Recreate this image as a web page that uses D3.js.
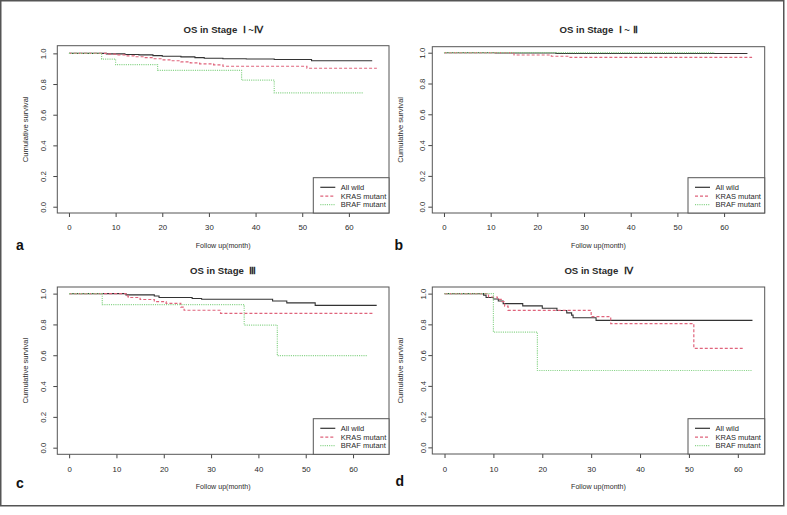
<!DOCTYPE html>
<html><head><meta charset="utf-8">
<script src="https://cdn.jsdelivr.net/npm/d3@7"></script>
<style>body{margin:0;background:#fff}svg{display:block}text{font-family:"Liberation Sans",Arial,sans-serif;fill:#2a2a2a}</style>
</head><body><svg id="chart" width="787" height="515"></svg>
<script>
// ---- tick labels & names ----
const xTicks = [0, 10, 20, 30, 40, 50, 60];
const yTicks = [0, 0.2, 0.4, 0.6, 0.8, 1.0];
const seriesNames = ["All wild", "KRAS mutant", "BRAF mutant"];
const panelTitles = ["OS in Stage  Ⅰ ~Ⅳ", "OS in Stage  Ⅰ ~ Ⅱ", "OS in Stage  Ⅲ", "OS in Stage  Ⅳ"];
const panelLetters = ["a", "b", "c", "d"];
const xTitle = "Follow up(month)";
const yTitle = "Cumulative survival";

// ---- Kaplan-Meier steps: [month, survival] (last pair = end of follow-up) ----
const aWild = [[0,1],[8,0.997],[12,0.993],[15,0.99],[18,0.985],[20,0.981],[24,0.977],[27,0.972],[29,0.968],[33,0.965],[38,0.963],[44,0.96],[52,0.952],[65,0.952]];
const aKras = [[0,1],[8,0.995],[10,0.99],[12,0.984],[14,0.978],[16,0.972],[18,0.965],[20,0.958],[22,0.952],[24,0.945],[26,0.938],[28,0.932],[31,0.925],[33,0.916],[51,0.903],[66,0.903]];
const aBraf = [[0,1],[7,0.963],[10,0.926],[19,0.889],[37,0.825],[44,0.742],[63,0.742]];

const bWild = [[0,1],[11,0.998],[24,0.995],[65,0.995]];
const bKras = [[0,1],[15,0.985],[23,0.977],[27,0.97],[66,0.97]];
const bBraf = [[0,1],[58,1]];

const cWild = [[0,1],[12,0.992],[18,0.985],[19,0.975],[26,0.968],[28,0.963],[43,0.952],[46,0.94],[52,0.924],[65,0.924]];
const cKras = [[0,1],[12,0.985],[12.5,0.975],[15,0.962],[18,0.948],[20.5,0.937],[23.6,0.913],[24.3,0.892],[32,0.872],[64.5,0.872]];
const cBraf = [[0,1],[7,0.929],[37,0.796],[44,0.597],[63,0.597]];

const dWild = [[0,1],[8,0.99],[8.5,0.975],[10,0.965],[11,0.952],[12,0.935],[16,0.92],[20,0.905],[23,0.89],[25,0.875],[26,0.86],[26.3,0.843],[31,0.826],[63,0.826]];
const dKras = [[0,1],[9,0.978],[10.8,0.963],[11.8,0.948],[12.3,0.918],[13,0.891],[30,0.85],[34,0.805],[51,0.644],[61,0.644]];
const dBraf = [[0,1],[10,0.75],[19,0.5],[63,0.5]];

const panelData = [[aWild, aKras, aBraf], [bWild, bKras, bBraf], [cWild, cKras, cBraf], [dWild, dKras, dBraf]];

// ---- styles ----
const seriesColors = ["#333333", "#e0647c", "#8ad48a"];
const seriesDash = [null, "3,2", "1.1,1.1"];

// ---- layout (pixel boxes) ----
const layouts = [
  {L:57.3, R:389, T:45.7, B:213, xd:[-2.5,68.6], yd:[-0.041,1.05], tickLabX:43.3, yTitleX:25, xTickY:227.7, xTitleY:245.7, titleY:29.3, letterX:20, letterY:245, legLeft:313.3, legTop:177.7},
  {L:432.3, R:764.7, T:46.7, B:213, xd:[-2.5,68.7], yd:[-0.041,1.039], tickLabX:422.3, yTitleX:400.3, xTickY:227.7, xTitleY:245.7, titleY:29.3, letterX:398.7, letterY:245, legLeft:688, legTop:177.7},
  {L:57.3, R:389, T:287, B:454.3, xd:[-2.5,67.6], yd:[-0.043,1.043], tickLabX:43.3, yTitleX:25, xTickY:469.3, xTitleY:486.3, titleY:270.3, letterX:20, letterY:483, legLeft:313.3, legTop:418.7},
  {L:432.3, R:764.7, T:287, B:454, xd:[-2.5,65.5], yd:[-0.043,1.043], tickLabX:423, yTitleX:400, xTickY:469.3, xTitleY:486.3, titleY:270.3, letterX:399.7, letterY:481, legLeft:688, legTop:418.7}
];

const svg = d3.select("#chart");
svg.append("rect").attr("x", 0.75).attr("y", 0.75).attr("width", 783).attr("height", 505)
  .attr("fill", "#fff").attr("stroke", "#555").attr("stroke-width", 1.5);

layouts.forEach((lay, pi) => {
  const g = svg.append("g");
  const x = d3.scaleLinear().domain(lay.xd).range([lay.L, lay.R]);
  const y = d3.scaleLinear().domain(lay.yd).range([lay.B, lay.T]);
  const cx = (lay.L + lay.R) / 2, cy = (lay.T + lay.B) / 2;

  // x axis
  const xa = g.append("g").attr("transform", `translate(0,${lay.B})`)
    .call(d3.axisBottom(x).tickValues(xTicks).tickSize(4).tickPadding(0).tickFormat(d3.format("d")));
  xa.select(".domain").remove();
  xa.selectAll("line").attr("stroke", "#444");
  xa.selectAll("text").attr("y", lay.xTickY - lay.B).attr("dy", "0.35em").style("font-size", "7.8px").attr("font-family", null);

  // y axis
  const ya = g.append("g").attr("transform", `translate(${lay.L},0)`)
    .call(d3.axisLeft(y).tickValues(yTicks).tickSize(4).tickFormat(d3.format(".1f")));
  ya.select(".domain").remove();
  ya.selectAll("line").attr("stroke", "#444");
  ya.selectAll("text")
    .attr("x", null).attr("dy", null)
    .attr("text-anchor", "middle")
    .attr("transform", `translate(${lay.tickLabX - lay.L},0) rotate(-90)`)
    .attr("dy", "0.35em")
    .style("font-size", "7.8px").attr("font-family", null);

  // box
  g.append("rect").attr("x", lay.L).attr("y", lay.T).attr("width", lay.R - lay.L).attr("height", lay.B - lay.T)
    .attr("fill", "none").attr("stroke", "#555").attr("stroke-width", 1);

  // curves
  const line = d3.line().x(d => x(d[0])).y(d => y(d[1])).curve(d3.curveStepAfter);
  panelData[pi].forEach((ser, si) => {
    g.append("path").datum(ser).attr("d", line)
      .attr("fill", "none").attr("stroke", seriesColors[si])
      .attr("stroke-width", si === 0 ? 1.1 : 1.2)
      .attr("stroke-dasharray", seriesDash[si]);
  });

  // legend
  const lg = g.append("g");
  lg.append("rect").attr("x", lay.legLeft).attr("y", lay.legTop).attr("width", lay.R - lay.legLeft).attr("height", lay.B - lay.legTop)
    .attr("fill", "#fff").attr("stroke", "#555").attr("stroke-width", 1);
  const rowOff = [9.6, 18.4, 26.9];
  seriesNames.forEach((nm, si) => {
    const ry = lay.legTop + rowOff[si];
    lg.append("line").attr("x1", lay.legLeft + 7).attr("x2", lay.legLeft + 22).attr("y1", ry).attr("y2", ry)
      .attr("stroke", seriesColors[si]).attr("stroke-width", 1.2).attr("stroke-dasharray", seriesDash[si]);
    lg.append("text").attr("x", lay.legLeft + 27.5).attr("y", ry).attr("dy", "0.35em")
      .style("font-size", "7.5px").text(nm);
  });

  // titles
  g.append("text").attr("x", cx).attr("y", lay.titleY).attr("dy", "0.35em").attr("text-anchor", "middle")
    .style("font-size", "9.6px").style("font-weight", "bold").style("white-space", "pre").text(panelTitles[pi]);
  g.append("text").attr("x", cx).attr("y", lay.xTitleY).attr("dy", "0.35em").attr("text-anchor", "middle")
    .style("font-size", "7.1px").text(xTitle);
  g.append("text").attr("transform", `translate(${lay.yTitleX},${cy}) rotate(-90)`).attr("dy", "0.35em")
    .attr("text-anchor", "middle").style("font-size", "7.6px").text(yTitle);
  g.append("text").attr("x", lay.letterX).attr("y", lay.letterY).attr("dy", "0.35em").attr("text-anchor", "middle")
    .style("font-size", "14px").style("font-weight", "bold").style("fill", "#111").text(panelLetters[pi]);
});
</script>
</body></html>
